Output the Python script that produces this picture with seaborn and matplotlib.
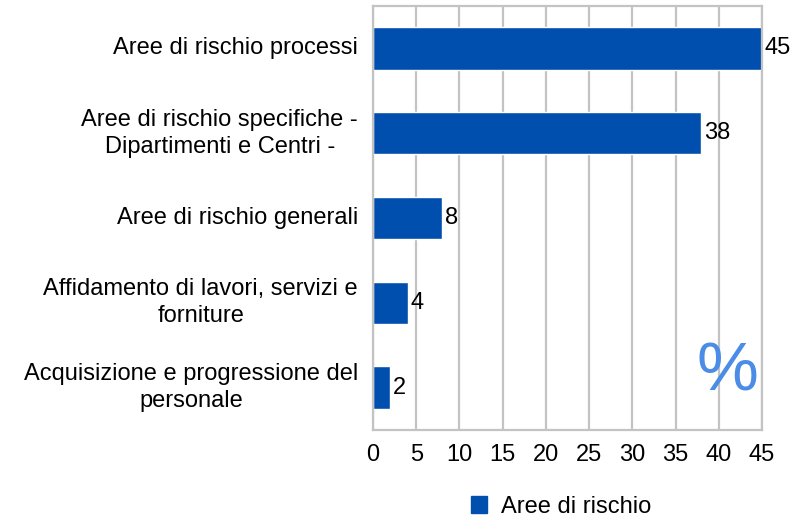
import matplotlib
matplotlib.use("Agg")
import matplotlib.pyplot as plt
import seaborn as sns
import pandas as pd
from matplotlib.patches import Patch
from matplotlib.transforms import blended_transform_factory

categories = [
    "Aree di rischio processi",
    "Aree di rischio specifiche -\nDipartimenti e Centri -",
    "Aree di rischio generali",
    "Affidamento di lavori, servizi e\nforniture",
    "Acquisizione e progressione del\npersonale",
]
values = [45, 38, 8, 4, 2]
series_name = "Aree di rischio"
x_ticks = [0, 5, 10, 15, 20, 25, 30, 35, 40, 45]

bar_color = "#004FAF"
grid_color = "#C3C3C3"
fs = 17

sns.set_style("white")
plt.rcParams["font.family"] = ["Liberation Sans", "DejaVu Sans"]
plt.rcParams["text.color"] = "black"

df = pd.DataFrame({"category": categories, "value": values})

fig = plt.figure(figsize=(8.08, 5.17), dpi=100)
ax = fig.add_axes([373 / 808, 1 - 430 / 517, (762 - 373) / 808, (430 - 6) / 517])

sns.barplot(data=df, x="value", y="category", orient="h", color=bar_color,
            width=0.5, saturation=1, ax=ax)

ax.set_xlim(0, 45)
ax.set_xticks(x_ticks)
ax.set_xticklabels([str(t) for t in x_ticks])
ax.tick_params(axis="both", length=0, labelsize=fs, colors="black")
ax.tick_params(axis="x", pad=10)
ax.set_yticklabels([])
ax.set_xlabel("")
ax.set_ylabel("")
ax.xaxis.grid(True, color=grid_color, linewidth=1.6)
ax.set_axisbelow(True)
for sp in ax.spines.values():
    sp.set_color(grid_color)
    sp.set_linewidth(1.6)

# value labels at bar ends
for container in ax.containers:
    ax.bar_label(container, labels=[str(v) for v in values], padding=2,
                 fontsize=fs, color="black")

# category labels in the left margin
trans = blended_transform_factory(fig.transFigure, ax.transData)
for i, text in enumerate(categories):
    ax.text(358 / 808, i, text, transform=trans, fontsize=fs,
            ha="right", va="center", multialignment="center",
            linespacing=1.3, color="black")

ax.text(0.912, 0.135, "%", transform=ax.transAxes, fontsize=50,
        color="#4A8CE6", ha="center", va="center")

handles = [Patch(facecolor=bar_color, edgecolor=bar_color, label=series_name)]
fig.legend(handles=handles, loc="center", bbox_to_anchor=(561 / 808, 1 - 507 / 517),
           frameon=False, fontsize=fs, handlelength=0.7, handleheight=0.7,
           handletextpad=0.6, labelcolor="black")

fig.savefig("out.png", dpi=100)
